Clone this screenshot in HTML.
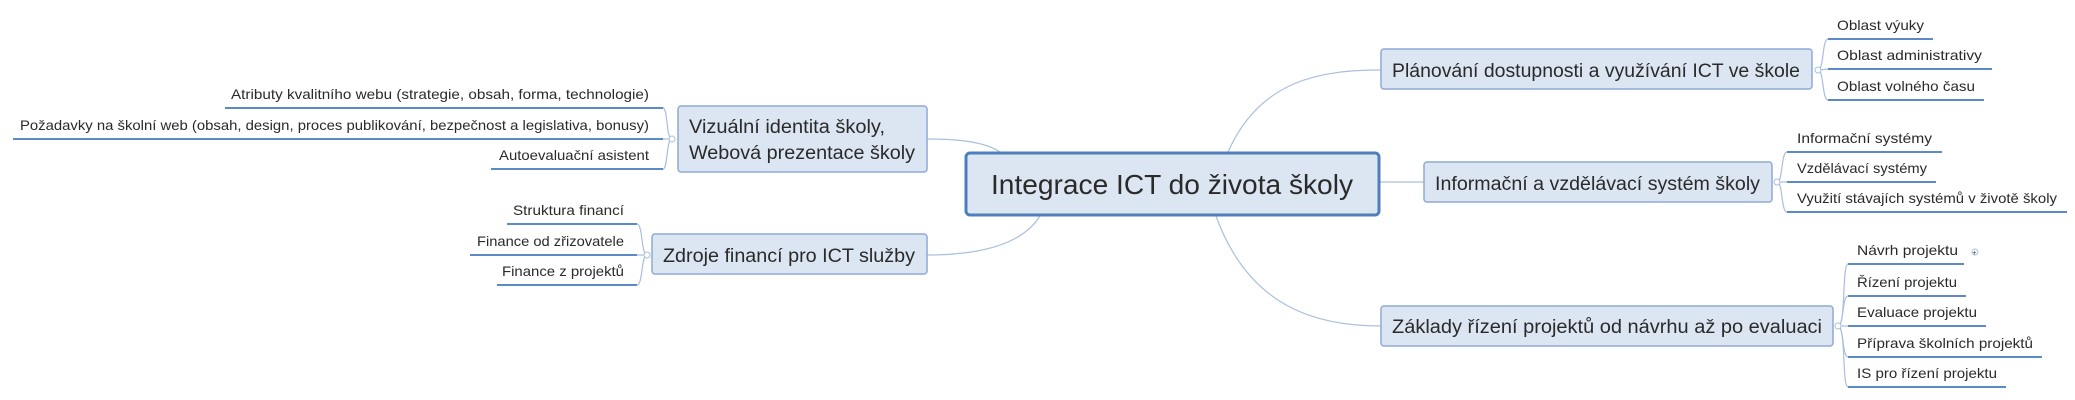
<!DOCTYPE html>
<html><head><meta charset="utf-8"><style>
html,body{margin:0;padding:0;background:#fff;}
svg{display:block;}
text{font-family:"Liberation Sans","DejaVu Sans",sans-serif;fill:#2a2a2a;}
.s{font-size:14px;}
.m{font-size:19px;}
</style></head><body>
<svg width="2075" height="400" viewBox="0 0 2075 400" xmlns="http://www.w3.org/2000/svg">
<g fill="none" stroke="#a9bfdc" stroke-width="1.2">
<!-- main connectors -->
<path d="M927 139 C960 139 985 142 1000 152"/>
<path d="M927 255 C990 255 1025 240 1040 216"/>
<path d="M1228 152 C1260 80 1320 70 1381 70"/>
<path d="M1380 182 L1424 182"/>
<path d="M1216 216 C1250 310 1320 326 1381 326"/>
<!-- brackets left -->
<path d="M672 139 C666 139 668 108 663 108"/><path d="M672 139 L663 139"/><path d="M672 139 C666 139 668 169 663 169"/>
<path d="M647 255 C641 255 643 224 637 224"/><path d="M647 255 L637 255"/><path d="M647 255 C641 255 643 285 637 285"/>
<!-- brackets right -->
<path d="M1818 70 C1824 70 1822 39 1828 39"/><path d="M1818 70 L1828 69"/><path d="M1818 70 C1824 70 1822 100 1828 100"/>
<path d="M1777 182 C1783 182 1781 152 1787 152"/><path d="M1777 182 L1787 182"/><path d="M1777 182 C1783 182 1781 212 1787 212"/>
<path d="M1838 326 C1846 326 1842 264 1848 264"/><path d="M1838 326 C1844 326 1842 296 1848 296"/><path d="M1838 326 L1848 326"/><path d="M1838 326 C1844 326 1842 357 1848 357"/><path d="M1838 326 C1846 326 1842 387 1848 387"/>
</g>
<g fill="#fff" stroke="#a9bfdc" stroke-width="1">
<circle cx="672" cy="139" r="3"/><circle cx="647" cy="255" r="3"/><circle cx="1818" cy="70" r="3"/><circle cx="1777" cy="182" r="3"/><circle cx="1838" cy="326" r="3"/>
<circle cx="1975" cy="252" r="3"/>
</g>
<text x="1972.5" y="255" font-size="7" fill="#8aa">+</text>
<!-- boxes -->
<g fill="#dce6f2" stroke="#8eaad6" stroke-width="1.5">
<rect x="678" y="106" width="249" height="66" rx="3"/>
<rect x="652" y="234" width="275" height="40" rx="3"/>
<rect x="1381" y="49" width="431" height="40" rx="3"/>
<rect x="1424" y="162" width="348" height="40" rx="3"/>
<rect x="1381" y="306" width="452" height="40" rx="3"/>
</g>
<rect x="966" y="153" width="413" height="62" rx="4" fill="#dce6f2" stroke="#4f7fba" stroke-width="3"/>
<!-- underlines -->
<g stroke="#5b8ac6" stroke-width="2">
<line x1="225" y1="108" x2="663" y2="108"/><line x1="13" y1="139" x2="663" y2="139"/><line x1="491" y1="169" x2="663" y2="169"/>
<line x1="507" y1="224" x2="637" y2="224"/><line x1="470" y1="255" x2="637" y2="255"/><line x1="497" y1="285" x2="637" y2="285"/>
<line x1="1828" y1="39" x2="1933" y2="39"/><line x1="1828" y1="69" x2="1992" y2="69"/><line x1="1828" y1="100" x2="1984" y2="100"/>
<line x1="1787" y1="152" x2="1942" y2="152"/><line x1="1787" y1="182" x2="1936" y2="182"/><line x1="1787" y1="212" x2="2067" y2="212"/>
<line x1="1848" y1="264" x2="1964" y2="264"/><line x1="1848" y1="296" x2="1966" y2="296"/><line x1="1848" y1="326" x2="1986" y2="326"/><line x1="1848" y1="357" x2="2042" y2="357"/><line x1="1848" y1="387" x2="2006" y2="387"/>
</g>
<!-- subtopic text -->
<g class="s">
<text x="231" y="99" textLength="418" lengthAdjust="spacingAndGlyphs">Atributy kvalitního webu (strategie, obsah, forma, technologie)</text>
<text x="20" y="130" textLength="629" lengthAdjust="spacingAndGlyphs">Požadavky na školní web (obsah, design, proces publikování, bezpečnost a legislativa, bonusy)</text>
<text x="499" y="160" textLength="150" lengthAdjust="spacingAndGlyphs">Autoevaluační asistent</text>
<text x="513" y="215" textLength="111" lengthAdjust="spacingAndGlyphs">Struktura financí</text>
<text x="477" y="246" textLength="147" lengthAdjust="spacingAndGlyphs">Finance od zřizovatele</text>
<text x="502" y="276" textLength="122" lengthAdjust="spacingAndGlyphs">Finance z projektů</text>
<text x="1837" y="30" textLength="87" lengthAdjust="spacingAndGlyphs">Oblast výuky</text>
<text x="1837" y="60" textLength="145" lengthAdjust="spacingAndGlyphs">Oblast administrativy</text>
<text x="1837" y="91" textLength="138" lengthAdjust="spacingAndGlyphs">Oblast volného času</text>
<text x="1797" y="143" textLength="135" lengthAdjust="spacingAndGlyphs">Informační systémy</text>
<text x="1797" y="173" textLength="130" lengthAdjust="spacingAndGlyphs">Vzdělávací systémy</text>
<text x="1797" y="203" textLength="260" lengthAdjust="spacingAndGlyphs">Využití stávajích systémů v životě školy</text>
<text x="1857" y="255" textLength="101" lengthAdjust="spacingAndGlyphs">Návrh projektu</text>
<text x="1857" y="287" textLength="100" lengthAdjust="spacingAndGlyphs">Řízení projektu</text>
<text x="1857" y="317" textLength="120" lengthAdjust="spacingAndGlyphs">Evaluace projektu</text>
<text x="1857" y="348" textLength="176" lengthAdjust="spacingAndGlyphs">Příprava školních projektů</text>
<text x="1857" y="378" textLength="140" lengthAdjust="spacingAndGlyphs">IS pro řízení projektu</text>
</g>
<g class="m">
<text x="689" y="133" textLength="196" lengthAdjust="spacingAndGlyphs">Vizuální identita školy,</text>
<text x="689" y="159" textLength="226" lengthAdjust="spacingAndGlyphs">Webová prezentace školy</text>
<text x="663" y="262" textLength="252" lengthAdjust="spacingAndGlyphs">Zdroje financí pro ICT služby</text>
<text x="1392" y="77" textLength="408" lengthAdjust="spacingAndGlyphs">Plánování dostupnosti a využívání ICT ve škole</text>
<text x="1435" y="190" textLength="325" lengthAdjust="spacingAndGlyphs">Informační a vzdělávací systém školy</text>
<text x="1392" y="333" textLength="430" lengthAdjust="spacingAndGlyphs">Základy řízení projektů od návrhu až po evaluaci</text>
</g>
<text x="991" y="194" font-size="28" textLength="362" lengthAdjust="spacingAndGlyphs">Integrace ICT do života školy</text>
</svg>
</body></html>
